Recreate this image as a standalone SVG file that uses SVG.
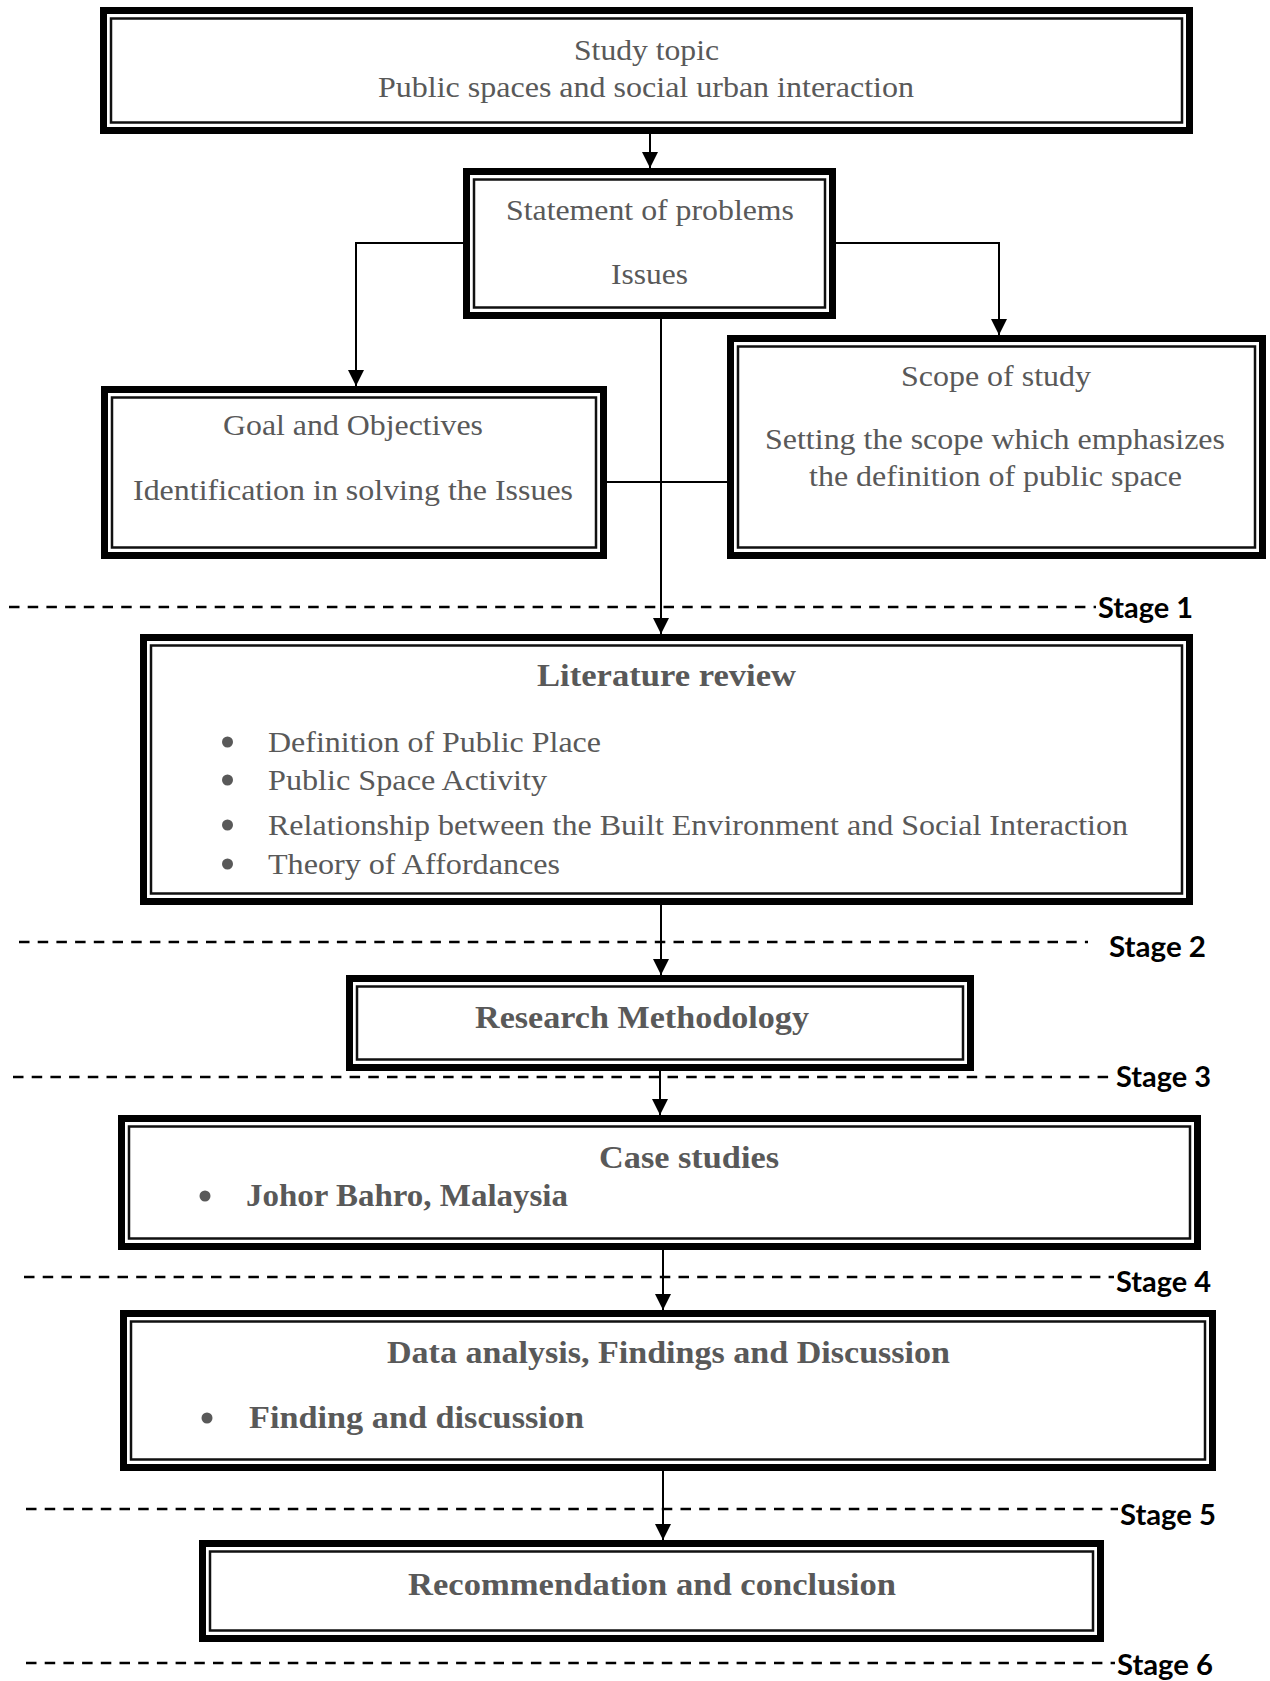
<svg xmlns="http://www.w3.org/2000/svg" width="1270" height="1681" viewBox="0 0 1270 1681">
<style>
.outer{fill:#fff;stroke:#000;stroke-width:7}
.inner{fill:none;stroke:#111;stroke-width:2.5}
.t{font-family:"Liberation Serif","Times New Roman",serif;font-size:30px;fill:#595959}
.b{font-family:"Liberation Serif","Times New Roman",serif;font-size:31px;font-weight:bold;fill:#595959}
.st{font-family:Lato,"Open Sans",sans-serif;font-size:28px;font-weight:bold;fill:#000}
.dash{stroke:#000;stroke-width:2.5;stroke-dasharray:10.5 8.2;fill:none}
.con{stroke:#000;stroke-width:2;fill:none}
.bul{fill:#595959}
</style>
<defs>
<marker id="ah" markerUnits="userSpaceOnUse" markerWidth="16" markerHeight="17" refX="16" refY="8" orient="auto">
<path d="M0,0 L16,8 L0,16 Z" fill="#000"/>
</marker>
</defs>

<g id="stages">
<line class="dash" x1="9" y1="607" x2="1096" y2="607"/>
<text class="st" x="1098" y="618" textLength="95" lengthAdjust="spacingAndGlyphs">Stage 1</text>
<line class="dash" x1="19" y1="942" x2="1088" y2="942"/>
<text class="st" x="1109" y="957" textLength="97" lengthAdjust="spacingAndGlyphs">Stage 2</text>
<line class="dash" x1="13" y1="1077" x2="1114" y2="1077"/>
<text class="st" x="1116" y="1087" textLength="95" lengthAdjust="spacingAndGlyphs">Stage 3</text>
<line class="dash" x1="24" y1="1277" x2="1114" y2="1277"/>
<text class="st" x="1116" y="1292" textLength="95" lengthAdjust="spacingAndGlyphs">Stage 4</text>
<line class="dash" x1="26" y1="1509" x2="1118" y2="1509"/>
<text class="st" x="1120" y="1525" textLength="96" lengthAdjust="spacingAndGlyphs">Stage 5</text>
<line class="dash" x1="26" y1="1663" x2="1115" y2="1663"/>
<text class="st" x="1117" y="1675" textLength="96" lengthAdjust="spacingAndGlyphs">Stage 6</text>
</g>

<g id="connectors">
<line class="con" x1="650" y1="134" x2="650" y2="168" marker-end="url(#ah)"/>
<polyline class="con" points="463,243 356,243 356,386" marker-end="url(#ah)"/>
<polyline class="con" points="836,243 999,243 999,335" marker-end="url(#ah)"/>
<line class="con" x1="661" y1="319" x2="661" y2="634" marker-end="url(#ah)"/>
<line class="con" x1="607" y1="482" x2="727" y2="482"/>
<line class="con" x1="661" y1="905" x2="661" y2="975" marker-end="url(#ah)"/>
<line class="con" x1="660" y1="1071" x2="660" y2="1115" marker-end="url(#ah)"/>
<line class="con" x1="663" y1="1250" x2="663" y2="1310" marker-end="url(#ah)"/>
<line class="con" x1="663" y1="1471" x2="663" y2="1540" marker-end="url(#ah)"/>
</g>

<g id="study-topic">
<rect class="outer" x="103.5" y="10.5" width="1086" height="120"/>
<rect class="inner" x="111" y="18.5" width="1071" height="104"/>
<text class="t" x="574" y="60" textLength="145" lengthAdjust="spacingAndGlyphs">Study topic</text>
<text class="t" x="378" y="97" textLength="536" lengthAdjust="spacingAndGlyphs">Public spaces and social urban interaction</text>
</g>

<g id="statement">
<rect class="outer" x="466.5" y="171.5" width="366" height="144"/>
<rect class="inner" x="474" y="179.5" width="351" height="128"/>
<text class="t" x="506" y="220" textLength="288" lengthAdjust="spacingAndGlyphs">Statement of problems</text>
<text class="t" x="611" y="284" textLength="77" lengthAdjust="spacingAndGlyphs">Issues</text>
</g>

<g id="goal">
<rect class="outer" x="104.5" y="389.5" width="499" height="166"/>
<rect class="inner" x="112" y="397.5" width="484" height="150"/>
<text class="t" x="223" y="435" textLength="260" lengthAdjust="spacingAndGlyphs">Goal and Objectives</text>
<text class="t" x="133" y="500" textLength="440" lengthAdjust="spacingAndGlyphs">Identification in solving the Issues</text>
</g>

<g id="scope">
<rect class="outer" x="730.5" y="338.5" width="532" height="217"/>
<rect class="inner" x="738" y="346.5" width="517" height="201"/>
<text class="t" x="901" y="386" textLength="190" lengthAdjust="spacingAndGlyphs">Scope of study</text>
<text class="t" x="765" y="449" textLength="460" lengthAdjust="spacingAndGlyphs">Setting the scope which emphasizes</text>
<text class="t" x="809" y="486" textLength="373" lengthAdjust="spacingAndGlyphs">the definition of public space</text>
</g>

<g id="literature">
<rect class="outer" x="143.5" y="637.5" width="1046" height="264"/>
<rect class="inner" x="151" y="645.5" width="1031" height="248"/>
<text class="b" x="537" y="686" textLength="259" lengthAdjust="spacingAndGlyphs">Literature review</text>
<circle class="bul" cx="227.5" cy="742" r="5.5"/>
<text class="t" x="268" y="752" textLength="333" lengthAdjust="spacingAndGlyphs">Definition of Public Place</text>
<circle class="bul" cx="227.5" cy="780" r="5.5"/>
<text class="t" x="268" y="790" textLength="279" lengthAdjust="spacingAndGlyphs">Public Space Activity</text>
<circle class="bul" cx="227.5" cy="825" r="5.5"/>
<text class="t" x="268" y="835" textLength="860" lengthAdjust="spacingAndGlyphs">Relationship between the Built Environment and Social Interaction</text>
<circle class="bul" cx="227.5" cy="864" r="5.5"/>
<text class="t" x="268" y="874" textLength="292" lengthAdjust="spacingAndGlyphs">Theory of Affordances</text>
</g>

<g id="methodology">
<rect class="outer" x="349.5" y="978.5" width="621" height="89"/>
<rect class="inner" x="357" y="986.5" width="606" height="73"/>
<text class="b" x="475" y="1028" textLength="334" lengthAdjust="spacingAndGlyphs">Research Methodology</text>
</g>

<g id="case-studies">
<rect class="outer" x="121.5" y="1118.5" width="1076" height="128"/>
<rect class="inner" x="129" y="1126.5" width="1061" height="112"/>
<text class="b" x="599" y="1168" textLength="180" lengthAdjust="spacingAndGlyphs">Case studies</text>
<circle class="bul" cx="205" cy="1196" r="5.5"/>
<text class="b" x="246" y="1206" textLength="322" lengthAdjust="spacingAndGlyphs">Johor Bahro, Malaysia</text>
</g>

<g id="data-analysis">
<rect class="outer" x="123.5" y="1313.5" width="1089" height="154"/>
<rect class="inner" x="131" y="1321.5" width="1074" height="138"/>
<text class="b" x="387" y="1363" textLength="563" lengthAdjust="spacingAndGlyphs">Data analysis, Findings and Discussion</text>
<circle class="bul" cx="207" cy="1418" r="5.5"/>
<text class="b" x="249" y="1428" textLength="335" lengthAdjust="spacingAndGlyphs">Finding and discussion</text>
</g>

<g id="recommendation">
<rect class="outer" x="202.5" y="1543.5" width="898" height="95"/>
<rect class="inner" x="210" y="1551.5" width="883" height="79"/>
<text class="b" x="408" y="1595" textLength="488" lengthAdjust="spacingAndGlyphs">Recommendation and conclusion</text>
</g>
</svg>
